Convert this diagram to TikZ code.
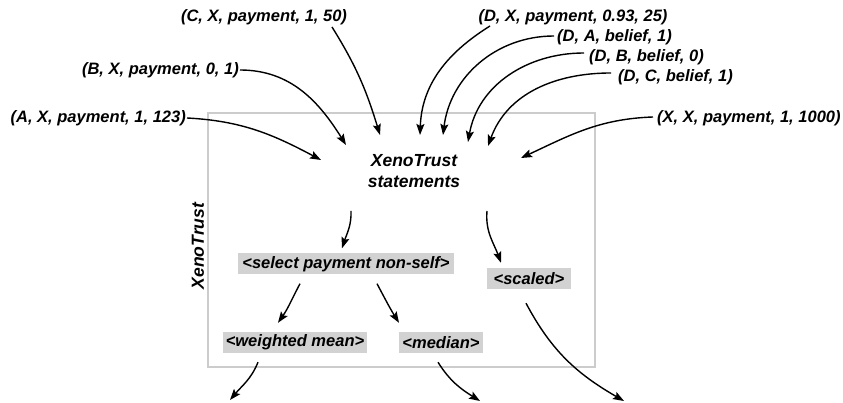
\documentclass[tikz,border=0pt]{standalone}
\usepackage{fontspec}
\setmainfont{Liberation Sans}
\usetikzlibrary{arrows.meta}
\definecolor{boxgray}{HTML}{D2D2D2}
\definecolor{framegray}{HTML}{CCCCCC}
\begin{document}
\begin{tikzpicture}[x=1pt,y=1pt,
  lbl/.style={font=\fontsize{16.5}{19}\selectfont\bfseries\itshape, inner sep=0pt},
  big/.style={font=\fontsize{17.5}{21}\selectfont\bfseries\itshape, inner sep=0pt, align=center},
  box/.style={lbl, fill=boxgray, minimum height=21pt},
  conn/.style={line width=1.4pt, -{Stealth[length=11pt,width=8pt,inset=2pt]}}]
\useasboundingbox (0,0) rectangle (843,403);
% frame
\draw[draw=framegray, line width=1.6pt] (208,36) rectangle (595,290);
\node[big, rotate=90] (xt) at (198,157) {XenoTrust};
% central statements
\node[big] (st) at (414,232) {XenoTrust\\statements};
% statement labels
\node[lbl, anchor=east] (a) at (186,285) {(A, X, payment, 1, 123)};
\node[lbl, anchor=east] (b) at (239,333) {(B, X, payment, 0, 1)};
\node[lbl] (c) at (264,386) {(C, X, payment, 1, 50)};
\node[lbl] (dx) at (573,386) {(D, X, payment, 0.93, 25)};
\node[lbl, anchor=west] (da) at (557,366) {(D, A, belief, 1)};
\node[lbl, anchor=west] (db) at (589,346) {(D, B, belief, 0)};
\node[lbl, anchor=west] (dc) at (618,326) {(D, C, belief, 1)};
\node[lbl, anchor=west] (xx) at (657,285) {(X, X, payment, 1, 1000)};
% operator boxes
\node[box, minimum width=216pt] (sel) at (346,139) {<select payment non-self>};
\node[box, minimum width=84pt] (sc) at (529,124.5) {<scaled>};
\node[box, minimum width=144pt] (wm) at (295,60.5) {<weighted mean>};
\node[box, minimum width=84pt] (md) at (441,60.5) {<median>};
% arrow tips into statements
\coordinate (ta) at (321,243);
\coordinate (tb) at (346,258);
\coordinate (tc) at (380,268);
\coordinate (tdx) at (420,268);
\coordinate (tda) at (443,268);
\coordinate (tdb) at (468,261);
\coordinate (tdc) at (488,257);
\coordinate (txx) at (521,245);
\coordinate (cs) at (332,376);
\coordinate (dxs) at (490,377);
\draw[conn] ([xshift=1pt]a.east) to[out=-3, in=152] (ta);
\draw[conn] ([xshift=1pt]b.east) to[out=0, in=122] (tb);
\draw[conn] (cs) to[out=-58, in=107] (tc);
\draw[conn] (dxs) to[out=-148, in=88] (tdx);
\draw[conn] ([xshift=-3pt,yshift=1pt]da.west) to[out=180, in=83] (tda);
\draw[conn] ([xshift=-5pt,yshift=4pt]db.west) to[out=180, in=80] (tdb);
\draw[conn] ([xshift=-7pt,yshift=4pt]dc.west) to[out=180, in=70] (tdc);
\draw[conn] ([xshift=-4pt,yshift=1pt]xx.west) to[out=182, in=25] (txx);
% internal flow
\coordinate (s1) at (351,192);
\coordinate (s2) at (487,192);
\draw[conn] (s1) to[out=-88, in=72] ([xshift=-4pt,yshift=5pt]sel.north);
\draw[conn] (s2) to[out=-95, in=110] ([xshift=-28pt,yshift=5pt]sc.north);
\draw[conn] ([xshift=-46pt,yshift=-9pt]sel.south) to[out=-118, in=55] ([xshift=-17pt,yshift=9pt]wm.north);
\draw[conn] ([xshift=31pt,yshift=-9pt]sel.south) to[out=-62, in=122] ([xshift=-42pt,yshift=9pt]md.north);
\coordinate (ow) at (230,3);
\coordinate (om) at (480,2);
\coordinate (os) at (624,2);
\draw[conn] ([xshift=-37pt,yshift=-9pt]wm.south) to[out=-112, in=50] (ow);
\draw[conn] ([xshift=-3pt,yshift=-9pt]md.south) to[out=-58, in=148] (om);
\draw[conn] ([xshift=-3pt,yshift=-14pt]sc.south) to[out=-62, in=150] (os);
\end{tikzpicture}
\end{document}
